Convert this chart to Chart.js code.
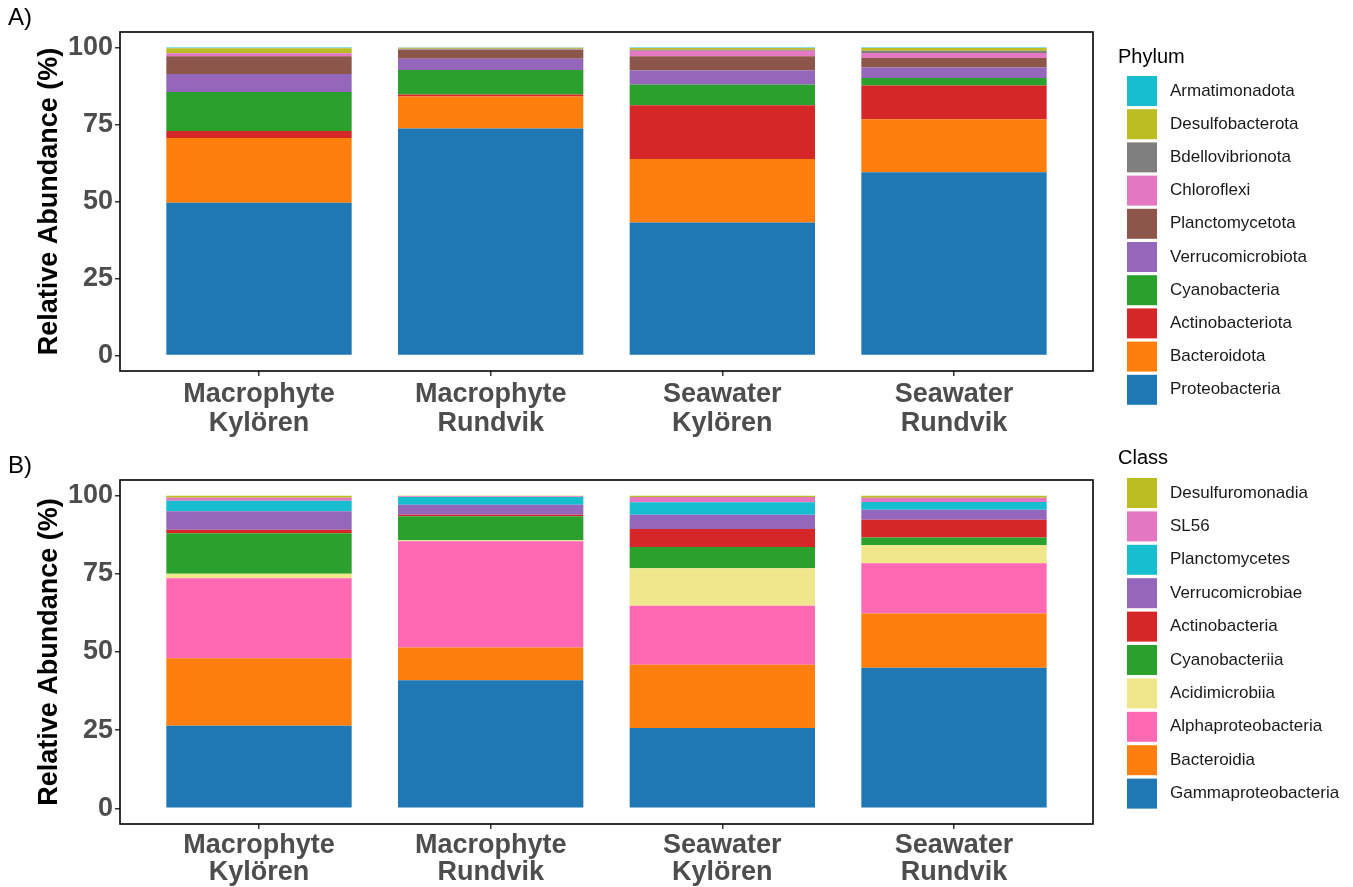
<!DOCTYPE html>
<html>
<head>
<meta charset="utf-8">
<title>Relative abundance by sample</title>
<script src="https://cdn.jsdelivr.net/npm/chart.js@4.4.1/dist/chart.umd.min.js"></script>
<style>
  html, body { margin: 0; padding: 0; background: #ffffff; overflow: hidden; }
  canvas { display: block; }
</style>
</head>
<body>
<canvas id="chartA" width="1353" height="443"></canvas>
<canvas id="chartB" width="1353" height="444"></canvas>
<script>
// ---- Samples and axis ticks ----
const sampleLabels = [["Macrophyte", "Kylören"], ["Macrophyte", "Rundvik"], ["Seawater", "Kylören"], ["Seawater", "Rundvik"]];
const yTickValues = [0, 25, 50, 75, 100];

// ---- Phylum level (%), stacked bottom to top ----
const phylumNames = ["Proteobacteria", "Bacteroidota", "Actinobacteriota", "Cyanobacteria", "Verrucomicrobiota",
                     "Planctomycetota", "Chloroflexi", "Bdellovibrionota", "Desulfobacterota", "Armatimonadota"];
const proteobacteria    = [49.6, 73.7, 43.2, 59.5];
const bacteroidota      = [21.0, 10.4, 20.6, 17.2];
const actinobacteriota  = [2.3, 0.6, 17.4, 10.9];
const cyanobacteria     = [12.6, 8.0, 6.8, 2.5];
const verrucomicrobiota = [5.9, 3.6, 4.5, 3.4];
const planctomycetota   = [5.7, 2.9, 4.6, 3.1];
const chloroflexi       = [1.0, 0.1, 1.8, 1.6];
const bdellovibrionota  = [0.1, 0.3, 0.3, 0.7];
const desulfobacterota  = [1.5, 0.3, 0.6, 0.9];
const armatimonadota    = [0.3, 0.1, 0.2, 0.2];
const phylumColors = ["#1F77B4", "#FF7F0E", "#D62728", "#2CA02C", "#9467BD",
                      "#8C564B", "#E377C2", "#7F7F7F", "#BCBD22", "#17BECF"];

// ---- Class level (%), stacked bottom to top ----
const classNames = ["Gammaproteobacteria", "Bacteroidia", "Alphaproteobacteria", "Acidimicrobiia", "Cyanobacteriia",
                    "Actinobacteria", "Verrucomicrobiae", "Planctomycetes", "SL56", "Desulfuromonadia"];
const gammaproteobacteria = [26.4, 41.0, 25.7, 45.0];
const bacteroidia         = [21.6, 10.4, 20.2, 17.3];
const alphaproteobacteria = [25.6, 34.0, 18.9, 16.1];
const acidimicrobiia      = [1.4, 0.3, 12.0, 5.7];
const cyanobacteriia      = [13.0, 7.7, 6.8, 2.5];
const actinobacteria      = [1.1, 0.5, 5.7, 5.7];
const verrucomicrobiae    = [5.9, 3.2, 4.6, 3.2];
const planctomycetes      = [3.4, 2.5, 4.0, 2.5];
const sl56                = [0.9, 0.2, 1.7, 1.3];
const desulfuromonadia    = [0.7, 0.2, 0.4, 0.7];
const classColors = ["#1F77B4", "#FF7F0E", "#FF69B4", "#F0E68C", "#2CA02C",
                     "#D62728", "#9467BD", "#17BECF", "#E377C2", "#BCBD22"];

const phylumSeries = [proteobacteria, bacteroidota, actinobacteriota, cyanobacteria, verrucomicrobiota,
                      planctomycetota, chloroflexi, bdellovibrionota, desulfobacterota, armatimonadota];
const classSeries = [gammaproteobacteria, bacteroidia, alphaproteobacteria, acidimicrobiia, cyanobacteriia,
                     actinobacteria, verrucomicrobiae, planctomycetes, sl56, desulfuromonadia];

const FONT = "'Liberation Sans', Arial, Helvetica, sans-serif";

// Panel frame, panel letter and the legend column on the right
const panelDecor = {
  id: 'panelDecor',
  afterDatasetsDraw(chart) {
    const { ctx, chartArea: a } = chart;
    ctx.save();
    ctx.strokeStyle = '#000000';
    ctx.lineWidth = 1.6;
    ctx.strokeRect(a.left, a.top, a.right - a.left, a.bottom - a.top);
    ctx.restore();
  },
  afterDraw(chart, args, opts) {
    const ctx = chart.ctx;
    ctx.save();
    ctx.textBaseline = 'middle';
    ctx.textAlign = 'left';
    ctx.fillStyle = '#000000';
    ctx.font = `24px ${FONT}`;
    ctx.fillText(opts.letter, 8, opts.letterY);
    ctx.font = `20px ${FONT}`;
    ctx.fillText(opts.title, 1118, opts.titleY);
    ctx.font = `17px ${FONT}`;
    const items = chart.data.datasets.slice().reverse();
    items.forEach((ds, i) => {
      const cy = opts.firstY + i * opts.step;
      ctx.fillStyle = ds.backgroundColor;
      ctx.fillRect(1127, cy - 15, 30, 30);
      ctx.fillStyle = '#1a1a1a';
      ctx.fillText(ds.label, 1170, cy);
    });
    ctx.restore();
  }
};

function makePanel(canvasId, names, series, colors, frame, decor) {
  const canvas = document.getElementById(canvasId);
  const datasets = names.map((name, k) => ({
    label: name,
    data: series[k].map((v, i) => ({ x: i, y: v })),
    backgroundColor: colors[k],
    borderWidth: 0,
    barPercentage: 0.8,
    categoryPercentage: 1.0
  }));
  const tickGrid = {
    display: true,
    drawOnChartArea: false,
    drawTicks: true,
    tickLength: 5,
    color: '#333333',
    lineWidth: 1.5
  };
  return new Chart(canvas, {
    type: 'bar',
    data: { datasets },
    plugins: [panelDecor],
    options: {
      responsive: false,
      animation: false,
      events: [],
      layout: { padding: { left: 0, top: frame.top, right: 1353 - 1093, bottom: 0 } },
      plugins: {
        legend: { display: false },
        tooltip: { enabled: false },
        panelDecor: decor
      },
      scales: {
        x: {
          type: 'linear',
          stacked: true,
          offset: false,
          min: -0.6,
          max: 3.6,
          grid: Object.assign({ offset: false }, tickGrid),
          border: { display: false },
          afterBuildTicks: (axis) => { axis.ticks = sampleLabels.map((_, i) => ({ value: i })); },
          afterFit: (axis) => { axis.height = canvas.height - frame.bottom; },
          ticks: {
            autoSkip: false,
            maxRotation: 0,
            minRotation: 0,
            padding: frame.labelPad,
            color: '#4d4d4d',
            font: { family: FONT, size: 27, weight: 'bold', lineHeight: frame.labelLine },
            callback: (v) => sampleLabels[v]
          }
        },
        y: {
          type: 'linear',
          stacked: true,
          min: -5,
          max: 105,
          grid: tickGrid,
          border: { display: false },
          afterBuildTicks: (axis) => { axis.ticks = yTickValues.map(v => ({ value: v })); },
          afterFit: (axis) => { axis.width = 120; },
          ticks: {
            padding: 2,
            color: '#4d4d4d',
            font: { family: FONT, size: 27, weight: 'bold' }
          },
          title: {
            display: true,
            text: 'Relative Abundance (%)',
            color: '#000000',
            font: { family: FONT, size: 27, weight: 'bold' },
            padding: { top: 33, bottom: 0 }
          }
        }
      }
    }
  });
}

makePanel('chartA', phylumNames, phylumSeries, phylumColors,
  { top: 32, bottom: 371, labelPad: 5, labelLine: 1.04 },
  { letter: 'A)', letterY: 18, title: 'Phylum', titleY: 57, firstY: 91, step: 33.2 });

makePanel('chartB', classNames, classSeries, classColors,
  { top: 37, bottom: 381, labelPad: 3, labelLine: 1.0 },
  { letter: 'B)', letterY: 23, title: 'Class', titleY: 15, firstY: 50, step: 33.4 });
</script>
</body>
</html>
